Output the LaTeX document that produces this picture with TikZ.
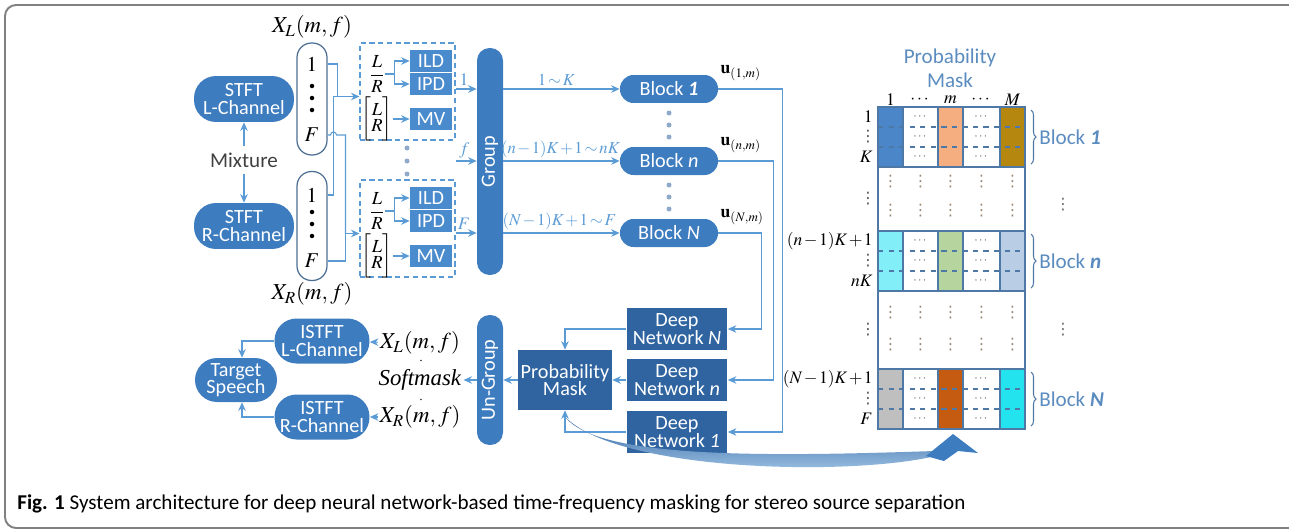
\documentclass[tikz,border=0pt]{standalone}
\usepackage{amsmath}
\usepackage{mathptmx}
\usepackage{fontspec}
\setmainfont{Liberation Serif}
\newfontfamily\labfont{Carlito}
\newfontfamily\symfont{DejaVu Sans}
\usepackage{tikz}
\usetikzlibrary{arrows.meta,positioning,calc,decorations.pathreplacing}
\definecolor{pillb}{HTML}{3D7CBF}
\definecolor{featb}{HTML}{4A8BCD}
\definecolor{deepb}{HTML}{2F64A0}
\definecolor{wireb}{HTML}{5B9BD5}
\definecolor{ttlb}{HTML}{5B8CBF}
\definecolor{ovl}{HTML}{4D6E94}
\definecolor{grid}{HTML}{4E78A6}
\definecolor{frm}{HTML}{808080}
\definecolor{dotg}{HTML}{8FA9CB}
\definecolor{cellg}{HTML}{5A5A5A}
\definecolor{vdot}{HTML}{9A8570}
\definecolor{mA}{HTML}{4A86C8}
\definecolor{mB}{HTML}{F4AE80}
\definecolor{mC}{HTML}{B5870F}
\definecolor{nA}{HTML}{82EEF7}
\definecolor{nB}{HTML}{B6D59E}
\definecolor{nC}{HTML}{B9CDE5}
\definecolor{pA}{HTML}{BFBFBF}
\definecolor{pB}{HTML}{C55A11}
\definecolor{pC}{HTML}{22E3EE}
\newcommand\tightmath{\medmuskip=1.5mu\relax\thickmuskip=2mu\relax}

\begin{document}
\begin{tikzpicture}[x=0.02cm,y=-0.02cm,
  pill/.style={fill=pillb,text=white,rounded corners=0.44cm,minimum width=2cm,minimum height=0.92cm,
    inner sep=1pt,align=center,font=\labfont\fontsize{11.5}{10}\selectfont},
  bar/.style={fill=pillb,text=white,rounded corners=0.25cm,minimum width=0.52cm,inner sep=0pt,
    font=\labfont\fontsize{11.5}{12}\selectfont},
  blk/.style={fill=pillb,text=white,rounded corners=0.27cm,minimum width=1.96cm,minimum height=0.56cm,
    inner sep=0pt,font=\labfont\fontsize{11.5}{12}\selectfont},
  deep/.style={fill=deepb,text=white,minimum width=2.02cm,minimum height=0.84cm,inner sep=1pt,
    align=center,font=\labfont\fontsize{11.5}{10}\selectfont},
  feat/.style={fill=featb,text=white,minimum width=0.84cm,minimum height=0.45cm,inner sep=0pt,
    font=\labfont\fontsize{11.5}{12}\selectfont},
  dbox/.style={draw=wireb,densely dashed,line width=0.6pt,minimum width=1.9cm,minimum height=1.94cm},
  oval/.style={draw=ovl,line width=0.7pt,fill=white,rounded corners=0.29cm,minimum width=0.6cm},
  wire/.style={wireb,line width=0.6pt},
  lnk/.style={wire,-{Stealth[length=1.7mm,width=1.5mm]}},
  mlab/.style={font=\fontsize{13}{14}\selectfont,inner sep=1pt},
  slab/.style={font=\fontsize{10}{12}\selectfont,inner sep=1.5pt},
  rng/.style={font=\fontsize{9.5}{12}\selectfont,inner sep=1.5pt},
  num/.style={font=\fontsize{12}{12}\selectfont,inner sep=0pt},
  fracl/.style={font=\fontsize{10.5}{12}\selectfont,inner sep=0pt},
  rlab/.style={font=\fontsize{10}{12}\selectfont,inner sep=0pt,anchor=east},
  blab/.style={text=ttlb,font=\labfont\fontsize{12}{12}\selectfont,inner sep=0pt,anchor=west},
  cdots/.style={text=cellg,font=\fontsize{7}{8}\selectfont,inner sep=0pt},
  vd/.style={text=vdot,font=\symfont\fontsize{9}{9}\selectfont,inner sep=0pt},
  brc/.style={decorate,decoration={brace,amplitude=0.1cm},draw=grid,line width=0.6pt}]

  \useasboundingbox (0,0) rectangle (1289,531);
  % outer frame, open on the right
  \begin{scope}
    \clip (0,0) rectangle (1289,531);
    \draw[frm,line width=1.1pt,rounded corners=0.22cm] (5,5) rectangle (1320,528);
  \end{scope}

  % input side
  \node[pill] (stftL) at (244,99) {STFT\\L-Channel};
  \node[pill] (stftR) at (244,226) {STFT\\R-Channel};
  \node[text=black!75,font=\labfont\fontsize{12}{12}\selectfont] (mix) at (244,160) {Mixture};
  \draw[lnk] (mix) -- (stftL);
  \draw[lnk] (mix) -- (stftR);

  \node[oval,minimum height=2.24cm] (ovL) at (312,99) {};
  \node[oval,minimum height=2.18cm] (ovR) at (312,226) {};
  \node[num] (l1) at (312,64) {$1$};
  \node[num] (lF) at (312,135) {$F$};
  \node[num] (r1) at (312,195) {$1$};
  \node[num] (rF) at (312,261) {$F$};
  \foreach \y in {86,98,110} \fill (312,\y) circle (0.045cm);
  \foreach \y in {212,224,236} \fill (312,\y) circle (0.045cm);
  \node[mlab] (xl) at (312,27) {$X_L(m,f)$};
  \node[mlab] (xr) at (312,294) {$X_R(m,f)$};

  % feature boxes
  \foreach \i/\y in {1/91.5,2/228.5} {
    \node[dbox] (box\i) at (407.5,\y) {};
    \node[feat] (ild\i) at (431,{\y-30.5}) {ILD};
    \node[feat] (ipd\i) at (431,{\y-7.5}) {IPD};
    \node[feat] (mv\i) at (431,{\y+27.5}) {MV};
    \node[fracl] (fr\i) at (377,{\y-17.5}) {$\dfrac{L}{R}$};
    \node[fracl] (vec\i) at (377,{\y+27.5}) {$\left[\begin{array}{@{}c@{}}L\\[-3pt]R\end{array}\right]$};
    \draw[wire] (fr\i.east) -- ++(9,0) coordinate (br\i);
    \draw[lnk] (br\i) |- (ild\i);
    \draw[lnk] (br\i) |- (ipd\i);
    \draw[lnk] (vec\i) -- (mv\i);
  }
  \foreach \y in {148,161,174} \fill[dotg] (407,\y) circle (0.05cm);

  % wires from the ovals
  \coordinate (in1) at ([yshift=-0.1cm]box1.west);
  \coordinate (in2) at ([yshift=-0.1cm]box2.west);
  \coordinate (ja) at ([xshift=-0.44cm]in1);
  \coordinate (jb) at ([xshift=-0.52cm]in1);
  \coordinate (jc) at ([xshift=-0.58cm]in1);
  \coordinate (jd) at ([xshift=-0.28cm]in2);
  \draw[wire] (ovL.east |- l1) -| (ja);
  \draw[wire] (ovR.east |- r1) -| (jb);
  \draw[lnk] (jb) -- (in1);
  \draw[wire] (ovL.east |- lF) -- (jc |- lF) arc[start angle=180,end angle=0,radius=0.06cm] -| (jd);
  \draw[wire] (ovR.east |- rF) -| (jd);
  \draw[lnk] (jd) -- (in2);

  % grouping and blocks
  \node[bar,minimum height=4.54cm] (grp) at (490,161.5) {\rotatebox{90}{Group}};
  \node[blk] (blk1) at (669,89) {Block \textbf{\textit{1}}};
  \node[blk] (blkn) at (669,161) {Block \textit{n}};
  \node[blk] (blkN) at (669,233) {Block \textit{N}};
  \foreach \y in {113,125,137,185,197,209} \fill[dotg] (669,\y) circle (0.05cm);

  \coordinate (fin) at (456,161);
  \draw[lnk] (box1.east |- blk1) -- node[slab,above,xshift=-0.04cm] {$1$} (grp.west |- blk1);
  \draw[lnk] (fin) -- node[slab,above,xshift=-0.04cm] {$f$} (grp.west |- fin);
  \draw[lnk] (box2.east |- blkN) -- node[slab,above,xshift=-0.04cm] {$F$} (grp.west |- blkN);
  \draw[lnk] (grp.east |- blk1) -- node[rng,above,xshift=-0.1cm] {$\tightmath 1\sim K$} (blk1);
  \draw[lnk] (grp.east |- blkn) -- node[rng,above,xshift=-0.02cm] {$\tightmath (n-1)K+1\sim nK$} (blkn);
  \draw[lnk] (grp.east |- blkN) -- node[rng,above,xshift=-0.04cm] {$\tightmath (N-1)K+1\sim F$} (blkN);

  \node[slab,anchor=south west,inner sep=0pt] (u1) at ([xshift=0.04cm,yshift=-0.12cm]blk1.north east) {$\mathbf{u}_{(1,m)}$};
  \node[slab,anchor=south west,inner sep=0pt] (un) at ([xshift=0.04cm,yshift=-0.12cm]blkn.north east) {$\mathbf{u}_{(n,m)}$};
  \node[slab,anchor=south west,inner sep=0pt] (uN) at ([xshift=0.04cm,yshift=-0.12cm]blkN.north east) {$\mathbf{u}_{(N,m)}$};

  % deep networks
  \node[deep] (dnN) at (677,329) {Deep\\Network \textit{N}};
  \node[deep] (dnn) at (677,380) {Deep\\Network \textit{n}};
  \node[deep] (dn1) at (677,432) {Deep\\Network \textit{1}};
  \draw[lnk] (blk1.east) -- ++(64,0) |- (dn1);
  \draw[lnk] (blkn.east) -- ++(55,0) |- (dnn);
  \draw[lnk] (blkN.east) -- ++(43,0) |- (dnN);

  \node[deep,minimum width=1.88cm,minimum height=1.2cm] (pm) at (565,380) {Probability\\Mask};
  \draw[lnk] (dnN) -| (pm);
  \draw[lnk] (dnn) -- (pm);
  \draw[lnk] (dn1) -| (pm);

  % output side
  \node[bar,minimum height=2.6cm] (ugrp) at (490,380) {\rotatebox{90}{Un-Group}};
  \draw[lnk] (pm) -- (ugrp);
  \node[mlab] (soft) at (420,380) {\textit{Softmask}};
  \node[mlab] (xl2) at (420,343) {$X_L(m,f)$};
  \node[mlab] (xr2) at (420,417) {$X_R(m,f)$};
  \node[inner sep=0pt,font=\fontsize{8}{8}\selectfont] (dt1) at (421,361) {$\cdot$};
  \node[inner sep=0pt,font=\fontsize{8}{8}\selectfont] (dt2) at (421,400) {$\cdot$};
  \draw[lnk] (ugrp) -- (soft);

  \node[pill,minimum width=1.9cm,minimum height=0.9cm] (istL) at (322,341) {ISTFT\\L-Channel};
  \node[pill,minimum width=1.9cm,minimum height=0.9cm] (istR) at (322,417) {ISTFT\\R-Channel};
  \node[pill,minimum width=1.64cm,minimum height=0.88cm] (tgt) at (236,380) {Target\\Speech};
  \draw[lnk] (xl2) -- (istL);
  \draw[lnk] (xr2) -- (istR);
  \draw[lnk] (istL) -| ([xshift=0.12cm]tgt.north);
  \draw[lnk] (istR) -| ([xshift=0.12cm]tgt.south);

  % swoosh towards the mask picture
  \shade[top color=deepb,bottom color=wireb!55] (566,418) .. controls (600,458) and (760,457) .. (934,451)
    -- (950,452) .. controls (880,476) and (640,475) .. (572,423) -- cycle;
  \fill[pillb] (926,456) -- (953,434) -- (978,453) -- (958,451) -- (944,461) -- cycle;

  % probability mask picture
  \node[align=center,text=ttlb,font=\labfont\fontsize{12}{13.5}\selectfont] (pmt) at (950,68) {Probability\\Mask};
  \node[slab] (h1) at (890.5,100) {$1$};
  \node[slab] (h2) at (920.5,100) {$\cdots$};
  \node[slab] (h3) at (950.5,100) {$m$};
  \node[slab] (h4) at (981.5,100) {$\cdots$};
  \node[slab] (h5) at (1012.5,100) {$M$};

  \foreach \t/\ca/\cb/\cc/\nm in {107/mA/mB/mC/1,231/nA/nB/nC/n,369/pA/pB/pC/N} {
    \fill[\ca] (878,\t) rectangle (903,{\t+60});
    \fill[\cb] (938,\t) rectangle (963,{\t+60});
    \fill[\cc] (1000,\t) rectangle (1025,{\t+60});
    \draw[grid,line width=0.7pt] (878,\t) rectangle (1025,{\t+60});
    \foreach \x in {903,938,963,1000} \draw[grid,line width=0.7pt] (\x,\t) -- (\x,{\t+60});
    \draw[grid,dashed,line width=0.6pt] (878,{\t+20}) -- (1025,{\t+20});
    \draw[grid,dashed,line width=0.6pt] (878,{\t+40}) -- (1025,{\t+40});
    \foreach \r in {10,30,50} {
      \node[cdots] (ca\t\r) at (920.5,{\t+\r}) {$\cdots$};
      \node[cdots] (cb\t\r) at (981.5,{\t+\r}) {$\cdots$};
    }
    \draw[brc] (1031,{\t+3}) -- (1031,{\t+57});
    \node[blab] (bl\nm) at (1039,{\t+30}) {Block \textbf{\textit{\nm}}};
  }
  \draw[grid,line width=0.7pt] (878,107) rectangle (1025,429);
  \foreach \x [count=\c] in {890.5,920.5,950.5,981.5,1012.5}
    \foreach \y [count=\k] in {182,211,313,345} \node[vd] (vd\c\k) at (\x,\y) {⋮};
  \node[vd,text=black!60] (rv1) at (1063,205) {⋮};
  \node[vd,text=black!60] (rv2) at (1063,330) {⋮};
  \foreach \y [count=\k] in {137,199,261,330,399} \node[vd,text=black!70] (lv\k) at (868,\y) {⋮};

  \node[rlab] (r1a) at (873,117) {$1$};
  \node[rlab] (r1c) at (873,157) {$K$};
  \node[rlab] (r2a) at (873,241) {$\tightmath (n-1)K+1$};
  \node[rlab] (r2c) at (873,281) {$nK$};
  \node[rlab] (r3a) at (873,379) {$\tightmath (N-1)K+1$};
  \node[rlab] (r3c) at (873,419) {$F$};

  % caption
  \node[anchor=base west,inner sep=0pt,font=\labfont\fontsize{12}{14}\selectfont] (cap) at (17,509)
    {\textbf{Fig. 1} System architecture for deep neural network-based time-frequency masking for stereo source separation};
\end{tikzpicture}
\end{document}
